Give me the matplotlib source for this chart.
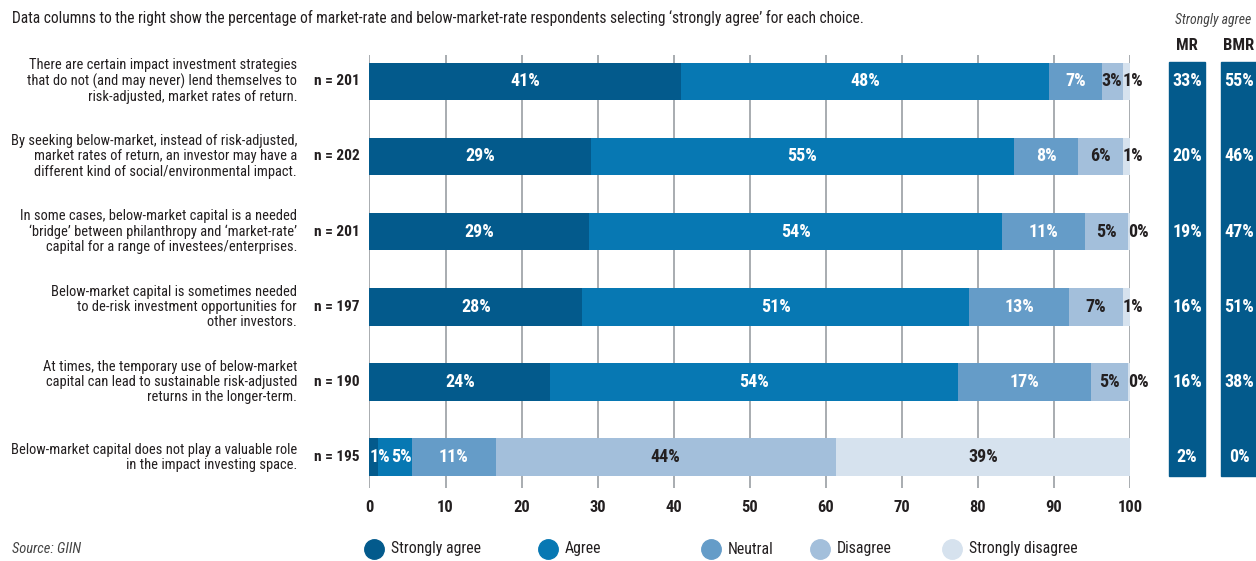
import matplotlib.pyplot as plt
import matplotlib.transforms as mtransforms
from matplotlib import font_manager as fm
from matplotlib.patches import Rectangle
import numpy as np

# the original uses a condensed face; take the narrowest one installed
_fonts = fm.fontManager.ttflist
_names = {f.name for f in _fonts}
STRETCH = "normal"
if "Roboto Condensed" in _names:
    FAMILY = "Roboto Condensed"
elif "Liberation Sans Narrow" in _names:
    FAMILY = "Liberation Sans Narrow"
elif any(f.name == "DejaVu Sans" and "Condensed" in f.fname for f in _fonts):
    FAMILY, STRETCH = "DejaVu Sans", "condensed"
else:
    FAMILY = "Roboto"
plt.rcParams["font.family"] = [FAMILY, "DejaVu Sans"]
plt.rcParams["font.stretch"] = STRETCH

# --- data -------------------------------------------------------------------
questions = [
    "There are certain impact investment strategies\nthat do not (and may never) lend themselves to\nrisk-adjusted, market rates of return.",
    "By seeking below-market, instead of risk-adjusted,\nmarket rates of return, an investor may have a\ndifferent kind of social/environmental impact.",
    "In some cases, below-market capital is a needed\n\u2018bridge\u2019 between philanthropy and \u2018market-rate\u2019\ncapital for a range of investees/enterprises.",
    "Below-market capital is sometimes needed\nto de-risk investment opportunities for\nother investors.",
    "At times, the temporary use of below-market\ncapital can lead to sustainable risk-adjusted\nreturns in the longer-term.",
    "Below-market capital does not play a valuable role\nin the impact investing space.",
]
n_resp = [201, 202, 201, 197, 190, 195]

categories = ["Strongly agree", "Agree", "Neutral", "Disagree", "Strongly disagree"]
strongly_agree = [41.0, 29.1, 28.9, 28.0, 23.8, 1.1]
agree = [48.3, 55.6, 54.3, 50.8, 53.6, 4.5]
neutral = [7.0, 8.5, 10.9, 13.2, 17.5, 11.0]
disagree = [2.8, 5.9, 5.7, 7.1, 4.9, 44.7]
strongly_disagree = [0.9, 0.9, 0.2, 0.9, 0.2, 38.7]

lbl_sa = [41, 29, 29, 28, 24, 1]
lbl_a = [48, 55, 54, 51, 54, 5]
lbl_n = [7, 8, 11, 13, 17, 11]
lbl_d = [3, 6, 5, 7, 5, 44]
lbl_sd = [1, 1, 0, 1, 0, 39]

mr_strongly_agree = [33, 20, 19, 16, 16, 2]
bmr_strongly_agree = [55, 46, 47, 51, 38, 0]

colors = ["#035a8c", "#0778b3", "#659cc8", "#a3bfdb", "#d6e2ee"]
text_colors = ["white", "white", "white", "#231f20", "#231f20"]
DARK = "#231f20"

# --- figure -----------------------------------------------------------------
W, H = 1256, 561
fig = plt.figure(figsize=(W / 100, H / 100), dpi=100)
renderer = fig.canvas.get_renderer()


def fx(px):
    return px / W


def fy(py):
    return 1 - py / H


def fit(sample, target_px, base, **kw):
    """font size <= base so that sample is about target_px wide"""
    t = fig.text(0, 0, sample, fontsize=base, **kw)
    w = t.get_window_extent(renderer).width
    t.remove()
    return base * min(1.0, target_px / w)


Q_SIZE = fit("By seeking below-market, instead of risk-adjusted,", 285, 11.5)
PCT_SIZE = fit("48%", 30, 13, fontweight="bold")
N_SIZE = fit("n = 201", 46, 12.5, fontweight="bold")
HEAD_SIZE = fit("Data columns to the right show the percentage of market-rate and "
                "below-market-rate respondents selecting \u2018strongly agree\u2019 "
                "for each choice.", 854, 12)
LEG_SIZE = fit("Strongly disagree", 110, 14)
TICK_SIZE = fit("100", 25, 14, fontweight="bold")

ax = fig.add_axes([fx(369.5), fy(488), fx(1130) - fx(369.5), fy(55) - fy(488)])

series = [strongly_agree, agree, neutral, disagree, strongly_disagree]
labels = [lbl_sa, lbl_a, lbl_n, lbl_d, lbl_sd]
y = np.arange(len(questions))
left = np.zeros(len(questions))
for k, (vals, lbls) in enumerate(zip(series, labels)):
    vals = np.array(vals)
    ax.barh(y, vals, left=left, height=0.5, color=colors[k], zorder=3)
    for i in range(len(y)):
        txt = f"{lbls[i]}%"
        kw = dict(va="center", fontsize=PCT_SIZE, fontweight="bold",
                  color=text_colors[k], zorder=4)
        if vals[i] < 3 and k == 0:
            # tiny first segment: start the label at the bar's left edge
            ax.text(left[i], y[i], txt, ha="left", **kw)
        elif vals[i] < 3 and k == 4:
            ax.text(left[i] - 0.05, y[i], txt, ha="left", **kw)
        elif vals[i] < 4.6 and k in (1, 3):
            # narrow inner segment: push label against its right edge
            ax.text(left[i] + vals[i] - 0.1, y[i], txt, ha="right", **kw)
        else:
            ax.text(left[i] + vals[i] / 2, y[i], txt, ha="center", **kw)
    left += vals

ax.set_xlim(0, 100)
ax.set_ylim(len(questions) - 1 + 0.41, -0.35)
ax.set_xticks(np.arange(0, 101, 10))
ax.set_yticks([])
ax.grid(axis="x", color="#9a9ea3", lw=1.2, zorder=0)
for s in ax.spines.values():
    s.set_visible(False)
ax.tick_params(axis="x", length=0, pad=9, labelsize=TICK_SIZE, colors=DARK)
for t in ax.get_xticklabels():
    t.set_fontweight("bold")

# question texts and n labels
blend = mtransforms.blended_transform_factory(fig.transFigure, ax.transData)
for i, q in enumerate(questions):
    fig.text(fx(297), i, q, transform=blend, ha="right", va="center",
             fontsize=Q_SIZE, linespacing=1.12, color=DARK)
    fig.text(fx(360), i, f"n = {n_resp[i]}", transform=blend, ha="right",
             va="center", fontsize=N_SIZE, fontweight="bold", color=DARK)

# right-hand "strongly agree" columns
for cx in (1169, 1221):
    fig.patches.append(Rectangle((fx(cx), fy(476)), fx(36), fy(62) - fy(476),
                                 transform=fig.transFigure, color=colors[0],
                                 zorder=1))
for i in range(len(y)):
    fig.text(fx(1187), i, f"{mr_strongly_agree[i]}%", transform=blend,
             ha="center", va="center", fontsize=PCT_SIZE, fontweight="bold",
             color="white")
    fig.text(fx(1239), i, f"{bmr_strongly_agree[i]}%", transform=blend,
             ha="center", va="center", fontsize=PCT_SIZE, fontweight="bold",
             color="white")
fig.text(fx(1187), fy(46), "MR", ha="center", va="center", fontsize=N_SIZE * 1.08,
         fontweight="bold", color=DARK)
fig.text(fx(1239), fy(46), "BMR", ha="center", va="center", fontsize=N_SIZE * 1.08,
         fontweight="bold", color=DARK)
fig.text(fx(1213), fy(20), "Strongly agree", ha="center", va="center",
         fontsize=Q_SIZE * 0.95, style="italic", color="#444444")

# header note and source
fig.text(fx(12), fy(18),
         "Data columns to the right show the percentage of market-rate and "
         "below-market-rate respondents selecting \u2018strongly agree\u2019 for each choice.",
         ha="left", va="center", fontsize=HEAD_SIZE, color=DARK)
fig.text(fx(12), fy(549), "Source: GIIN", ha="left", va="center",
         fontsize=Q_SIZE, style="italic", color="#444444")

# legend
leg_x = [374, 548, 711, 820, 952]
for cx, c, name in zip(leg_x, colors, categories):
    fig.lines.append(plt.Line2D([fx(cx)], [fy(549)], transform=fig.transFigure,
                                marker="o", ms=14, color=c, ls="none"))
    fig.text(fx(cx + 17), fy(549), name, ha="left", va="center",
             fontsize=LEG_SIZE, color=DARK)

fig.savefig("out.png", dpi=100)
